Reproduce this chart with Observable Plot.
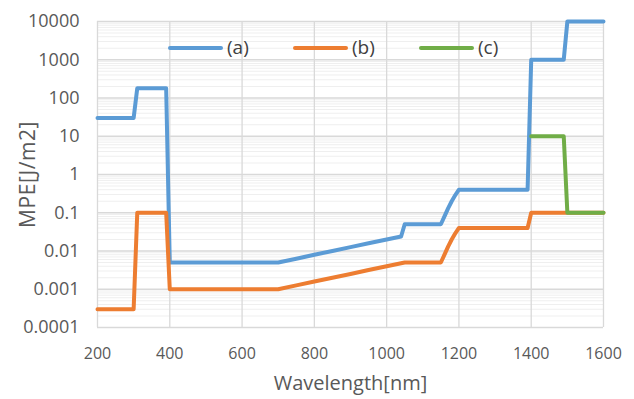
<!DOCTYPE html>
<html>
<head>
<meta charset="utf-8">
<script src="https://cdn.jsdelivr.net/npm/d3@7"></script>
<script src="https://cdn.jsdelivr.net/npm/@observablehq/plot@0.6"></script>
<style>
  body { margin: 0; background: #fff; }
  #wrap { position: relative; width: 634px; height: 399px; font-family: "Open Sans", sans-serif; color: #595959; }
  #wrap svg { position: absolute; left: 0; top: 0; }
  g[aria-label="x-axis label"] text { font-size: 20px; }
  g[aria-label="y-axis label"] text { font-size: 21px; letter-spacing: 0.6px; }
  g[aria-label="y-axis tick label"] text { font-size: 18px; }
  .leg { position: absolute; display: flex; align-items: center; font-size: 19px; line-height: 1; color: #404040; }
  .leg .sw { width: 55px; height: 4px; border-radius: 2px; margin-right: 4px; }
</style>
</head>
<body>
<div id="wrap"></div>
<script>
// Series data
const seriesNames = ["(a)", "(b)", "(c)"];
const seriesColors = ["#5B9BD5", "#ED7D31", "#70AD47"];

const aWavelength = [200, 300, 310, 390, 400, 700, 750, 800, 850, 900, 950, 1000, 1040, 1050, 1150, 1160, 1170, 1180, 1190, 1200, 1390, 1400, 1490, 1500, 1600];
const aMPE        = [30, 30, 180, 180, 0.005, 0.005, 0.0063, 0.008, 0.01, 0.0126, 0.016, 0.02, 0.024, 0.05, 0.05, 0.08, 0.13, 0.2, 0.29, 0.4, 0.4, 1000, 1000, 10000, 10000];

const bWavelength = [200, 300, 310, 390, 400, 700, 750, 800, 850, 900, 950, 1000, 1050, 1150, 1160, 1170, 1180, 1190, 1200, 1390, 1400, 1600];
const bMPE        = [0.0003, 0.0003, 0.1, 0.1, 0.001, 0.001, 0.00126, 0.0016, 0.002, 0.0025, 0.0032, 0.004, 0.005, 0.005, 0.008, 0.013, 0.02, 0.029, 0.04, 0.04, 0.1, 0.1];

const cWavelength = [1400, 1490, 1500, 1600];
const cMPE        = [10, 10, 0.1, 0.1];

const xTicks = [200, 400, 600, 800, 1000, 1200, 1400, 1600];
const yTicks = [0.0001, 0.001, 0.01, 0.1, 1, 10, 100, 1000, 10000];
const yTickLabels = ["0.0001", "0.001", "0.01", "0.1", "1", "10", "100", "1000", "10000"];

const toRows = (ws, vs, s) => ws.map((w, i) => ({wavelength: w, mpe: vs[i], series: s}));
const aRows = toRows(aWavelength, aMPE, seriesNames[0]);
const bRows = toRows(bWavelength, bMPE, seriesNames[1]);
const cRows = toRows(cWavelength, cMPE, seriesNames[2]);

// minor log gridlines (2..9 within each decade)
const minor = [];
for (let k = 0; k < yTicks.length - 1; k++) for (let m = 2; m <= 9; m++) minor.push(yTicks[k] * m);

const chart = Plot.plot({
  width: 634, height: 399,
  marginTop: 21, marginRight: 31, marginBottom: 72, marginLeft: 97,
  style: {fontFamily: "Open Sans, sans-serif", fontSize: "16px", color: "#595959", background: "transparent"},
  x: {domain: [200, 1600]},
  y: {type: "log", domain: [1e-4, 1e4]},
  marks: [
    Plot.ruleY(minor, {stroke: "#efefef", strokeWidth: 1}),
    Plot.gridX({ticks: xTicks, stroke: "#d9d9d9", strokeOpacity: 1, strokeWidth: 1.3}),
    Plot.gridY({ticks: yTicks, stroke: "#d9d9d9", strokeOpacity: 1, strokeWidth: 1.3}),
    Plot.axisX({ticks: xTicks, tickSize: 0, tickPadding: 20, tickFormat: d => String(d),
      label: "Wavelength[nm]", labelAnchor: "center", labelArrow: "none", labelOffset: 62}),
    Plot.axisY({ticks: yTicks, tickSize: 0, tickPadding: 18, tickFormat: d => yTickLabels[yTicks.indexOf(d)],
      label: "MPE[J/m2]", labelAnchor: "center", labelArrow: "none", labelOffset: 77}),
    Plot.line(aRows, {x: "wavelength", y: "mpe", stroke: seriesColors[0], strokeWidth: 4, strokeLinejoin: "round"}),
    Plot.line(bRows, {x: "wavelength", y: "mpe", stroke: seriesColors[1], strokeWidth: 4, strokeLinejoin: "round"}),
    Plot.line(cRows, {x: "wavelength", y: "mpe", stroke: seriesColors[2], strokeWidth: 4, strokeLinejoin: "round"})
  ]
});

const wrap = document.getElementById("wrap");
wrap.appendChild(chart);

// legend inside the plot area
const legendLeft = [168, 293, 419];
seriesNames.forEach((name, i) => {
  const d = document.createElement("div");
  d.className = "leg";
  d.style.left = legendLeft[i] + "px";
  d.style.top = "38px";
  d.innerHTML = `<span class="sw" style="background:${seriesColors[i]}"></span><span>${name}</span>`;
  wrap.appendChild(d);
});
</script>
</body>
</html>
